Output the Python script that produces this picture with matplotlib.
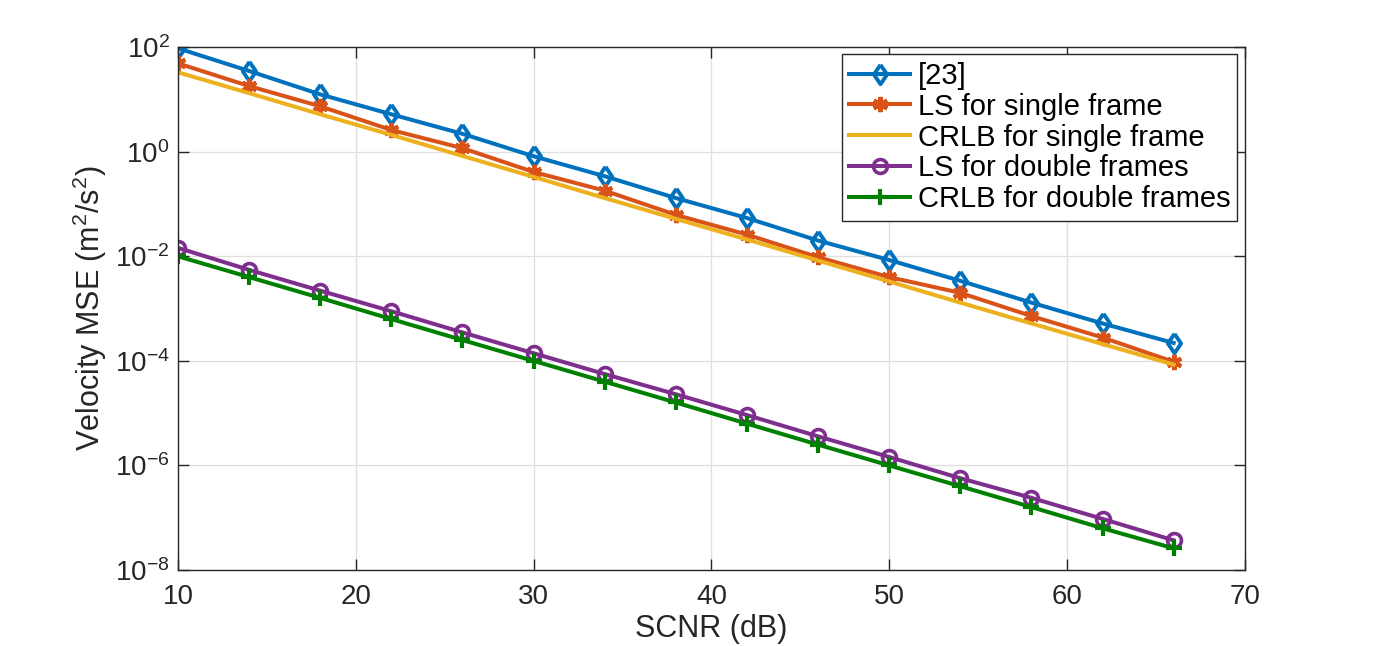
import matplotlib.pyplot as plt
from matplotlib.ticker import NullLocator

plt.rcParams['font.family'] = ['Liberation Sans', 'DejaVu Sans']
plt.rcParams['mathtext.fontset'] = 'custom'
plt.rcParams['mathtext.rm'] = 'Liberation Sans'
plt.rcParams['mathtext.it'] = 'Liberation Sans:italic'
plt.rcParams['axes.unicode_minus'] = False

# SCNR values (dB)
scnr = [10, 14, 18, 22, 26, 30, 34, 38, 42, 46, 50, 54, 58, 62, 66]

# velocity MSE
ref23 = [95, 35, 12.5, 5.2, 2.2, 0.82, 0.34, 0.13, 0.054, 0.020,
         0.0085, 0.0034, 0.0013, 5.2e-4, 2.2e-4]
ls_single = [49, 18, 7.4, 2.6, 1.17, 0.41, 0.18, 0.062, 0.026, 0.0096,
             0.0040, 0.0020, 7.2e-4, 2.8e-4, 9.6e-5]
crlb_single = [33, 13.2, 5.2, 2.1, 0.83, 0.33, 0.13, 0.052, 0.021, 0.0083,
               0.0033, 0.0013, 5.2e-4, 2.1e-4, 8.5e-5]
ls_double = [0.0145, 0.0055, 0.0022, 8.9e-4, 3.5e-4, 1.4e-4, 5.6e-5, 2.3e-5,
             9.2e-6, 3.6e-6, 1.45e-6, 5.7e-7, 2.4e-7, 9.5e-8, 3.7e-8]
crlb_double = [0.010, 0.0040, 0.0016, 6.3e-4, 2.5e-4, 1.0e-4, 4.0e-5, 1.6e-5,
               6.3e-6, 2.5e-6, 1.0e-6, 4.0e-7, 1.6e-7, 6.3e-8, 2.6e-8]

# MATLAB-like diamond (narrower than tall)
diamond = [(0, 1), (0.68, 0), (0, -1), (-0.68, 0), (0, 1)]

fig = plt.figure(figsize=(13.8, 6.46), dpi=100)
ax = fig.add_axes([0.129, 0.1176, 0.773, 0.8094])

lw = 2.9
ax.plot(scnr, ref23, color='#0072BD', lw=lw, marker=diamond, ms=14, mfc='none', mew=2.8, label='[23]')
ax.plot(scnr, ls_single, color='#D95319', lw=lw, marker=(6, 2, 0), ms=11, mew=3, label='LS for single frame')
ax.plot(scnr, crlb_single, color='#EDB120', lw=lw, label='CRLB for single frame')
ax.plot(scnr, ls_double, color='#7E2F8E', lw=lw, marker='o', ms=10, mfc='none', mew=2.6, label='LS for double frames')
ax.plot(scnr, crlb_double, color='#008000', lw=lw, marker='+', ms=11, mew=3, label='CRLB for double frames')

ax.set_yscale('log')
ax.set_xlim(10, 70)
ax.set_ylim(1e-8, 1e2)
ax.set_yticks([1e-8, 1e-6, 1e-4, 1e-2, 1e0, 1e2])
ax.yaxis.set_minor_locator(NullLocator())
ax.set_xticks(range(10, 71, 10))

ax.grid(True, color='#dfdfdf', lw=0.9)
ax.set_axisbelow(True)
for s in ax.spines.values():
    s.set_color('#262626')
    s.set_linewidth(1.0)
ax.tick_params(direction='in', top=True, right=True, length=8, width=1,
               labelsize=20, colors='#262626')
ax.tick_params(axis='x', pad=10)
ax.tick_params(axis='y', pad=6)

ax.set_xlabel('SCNR (dB)', fontsize=22, color='#262626', labelpad=3)
ax.set_ylabel('Velocity MSE (m$^2$/s$^2$)', fontsize=22, color='#262626', labelpad=4)

leg = ax.legend(loc='upper right', fontsize=21, frameon=True, fancybox=False,
                edgecolor='#262626', framealpha=1, borderpad=0.25, labelspacing=0.1,
                handlelength=2.1, handletextpad=0.25, borderaxespad=0.25)
leg.get_frame().set_linewidth(1.0)

fig.savefig('out.png', dpi=100)
